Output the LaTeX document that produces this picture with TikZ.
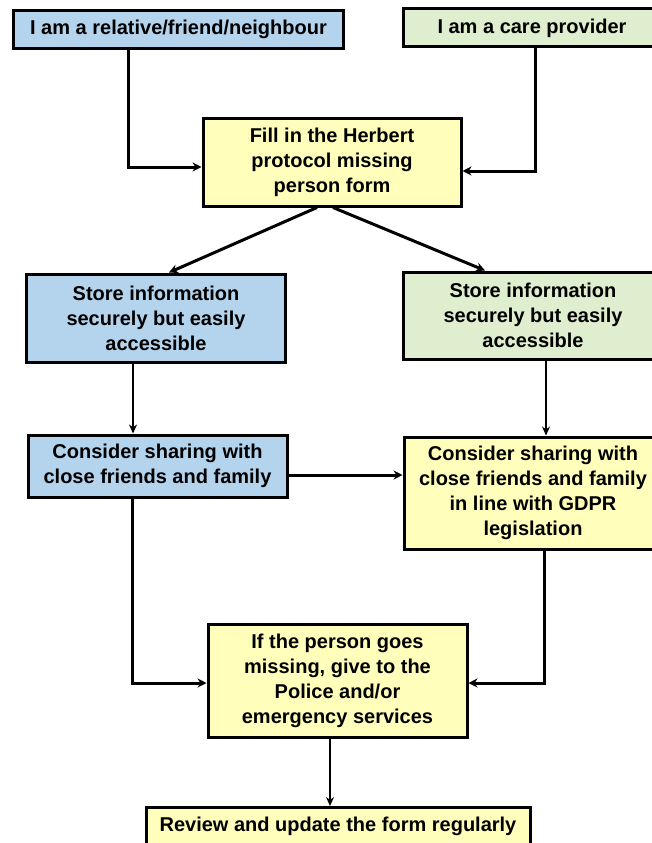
\documentclass[tikz,border=0pt]{standalone}
\usepackage{fontspec}
\setmainfont{Liberation Sans}
\usetikzlibrary{arrows.meta}

\definecolor{relblue}{RGB}{180,211,236}
\definecolor{caregreen}{RGB}{222,238,206}
\definecolor{formyellow}{RGB}{255,255,187}

\begin{document}
\begin{tikzpicture}[x = 1pt, y = -1pt,
  box/.style = {draw, line width = 3pt, align = center, inner sep = 0pt, font = \fontsize{20}{25}\selectfont\bfseries},
  arr/.style = {line width = 3pt, -{Stealth[length=9pt, width=9pt]}},
  thinarr/.style = {line width = 2.4pt, -{Stealth[length=9pt, width=8pt]}}]

\useasboundingbox (0,0) rectangle (652,843);

\node[box, fill = relblue, minimum width = 330pt, minimum height = 38pt] (rel) at (178.5,29.5) {I am a relative/friend/neighbour};
\node[box, fill = caregreen, minimum width = 258pt, minimum height = 38pt] (care) at (532,28) {I am a care provider};
\node[box, fill = formyellow, minimum width = 258pt, minimum height = 88pt] (form) at (332,162) {Fill in the Herbert\\protocol missing\\person form};

\node[box, fill = relblue, minimum width = 259pt, minimum height = 88pt] (storeL) at (156,318) {Store information\\securely but easily\\accessible};
\node[box, fill = caregreen, minimum width = 259pt, minimum height = 87pt] (storeR) at (533,315.5) {Store information\\securely but easily\\accessible};

\node[box, fill = relblue, minimum width = 259pt, minimum height = 62pt] (shareL) at (157.5,466) {Consider sharing with\\close friends and family};
\node[box, fill = formyellow, minimum width = 258pt, minimum height = 112pt] (shareR) at (533,493) {Consider sharing with\\close friends and family\\in line with GDPR\\legislation};

\node[box, fill = formyellow, minimum width = 259pt, minimum height = 113pt] (missing) at (337.5,680.5) {If the person goes\\missing, give to the\\Police and/or\\emergency services};
\node[box, fill = formyellow, minimum width = 384pt, minimum height = 38pt] (review) at (338,826.5) {Review and update the form regularly};

\draw[arr] ([xshift=-50pt]rel.south) |- ([yshift=-5pt]form.west);
\draw[arr] ([xshift=3pt]care.south) |- ([yshift=-9pt]form.east);
\draw[arr] ([xshift=-15pt]form.south) -- ([xshift=13pt]storeL.north);
\draw[arr] ([xshift=1pt]form.south) -- ([xshift=-48pt]storeR.north);

\draw[thinarr] ([xshift=-23pt]storeL.south) -- ([xshift=-23pt]storeL.south |- shareL.north);
\draw[thinarr] ([xshift=13pt]storeR.south) -- ([xshift=13pt]storeR.south |- shareR.north);
\draw[arr] ([yshift=-9pt]shareL.east) -- ([yshift=-9pt]shareL.east -| shareR.west);

\draw[arr] ([xshift=-25.5pt]shareL.south) |- ([yshift=-2.5pt]missing.west);
\draw[arr] ([xshift=11pt]shareR.south) |- ([yshift=-2.5pt]missing.east);
\draw[thinarr] ([xshift=-7.5pt]missing.south) -- ([xshift=-7.5pt]missing.south |- review.north);

\end{tikzpicture}
\end{document}
